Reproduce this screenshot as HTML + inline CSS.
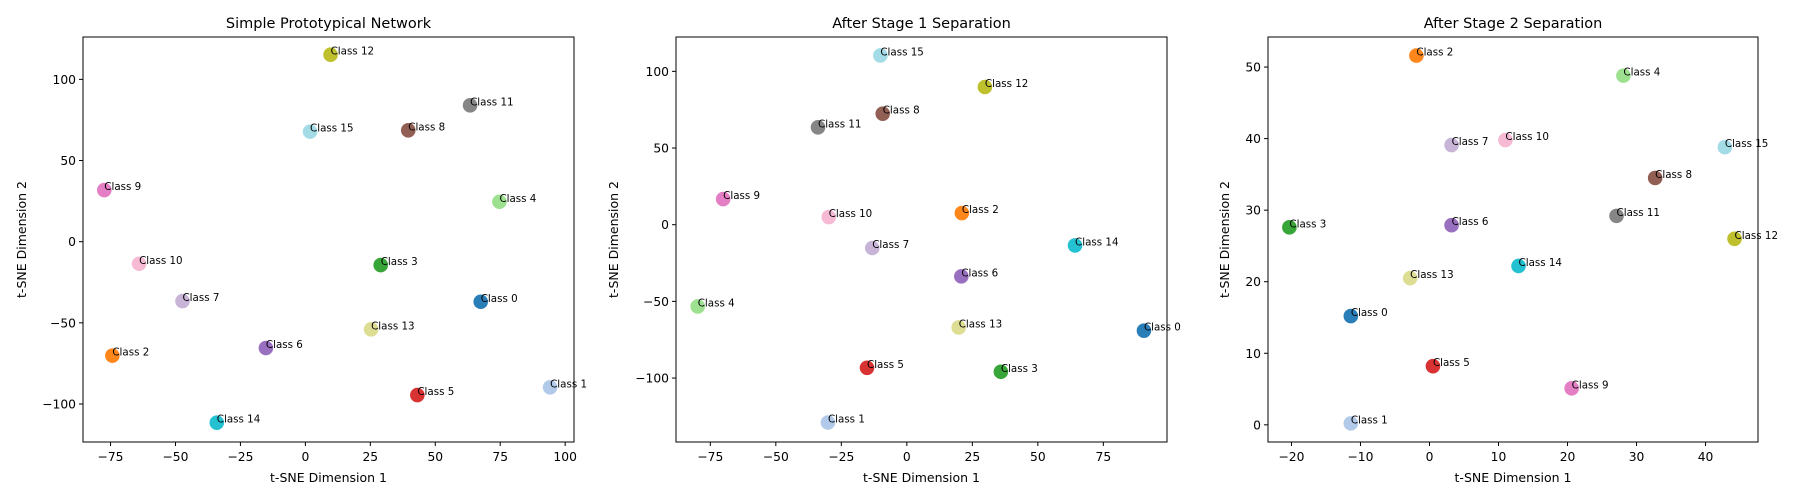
<!DOCTYPE html>
<html><head><meta charset="utf-8"><style>
body{margin:0;background:#fff;}
svg{display:block;font-family:"DejaVu Sans","Liberation Sans",sans-serif;}
</style></head><body>
<svg id="chart" width="1800" height="500" viewBox="0 0 1800 500" xmlns="http://www.w3.org/2000/svg"></svg>
<script>
const classNames = ["Class 0","Class 1","Class 2","Class 3","Class 4","Class 5","Class 6","Class 7","Class 8","Class 9","Class 10","Class 11","Class 12","Class 13","Class 14","Class 15"];
const classColors = ["#1f77b4","#aec7e8","#ff7f0e","#2ca02c","#98df8a","#d62728","#9467bd","#c5b0d5","#8c564b","#e377c2","#f7b6d2","#7f7f7f","#bcbd22","#dbdb8d","#17becf","#9edae5"];
const p1X = [67.5,94.2,-74.3,29,74.7,43.1,-15.2,-47.3,39.6,-77.4,-64,63.4,9.7,25.3,-34.1,1.8];
const p1Y = [-37,-89.7,-70.2,-14.4,24.6,-94.5,-65.5,-36.6,68.6,31.8,-13.6,84,115.2,-54,-111.5,67.8];
const p2X = [90.5,-30.1,21,35.9,-79.8,-15.2,20.8,-13.2,-9.2,-70.1,-29.8,-33.9,29.8,19.8,64.2,-10.1];
const p2Y = [-69.1,-129,7.6,-95.9,-53.3,-93.3,-33.7,-15.2,72.4,16.7,5,63.5,89.8,-67,-13.5,110.4];
const p3X = [-11.4,-11.4,-1.9,-20.3,28.1,0.5,3.2,3.2,32.7,20.6,11,27.1,44.2,-2.8,12.9,42.8];
const p3Y = [15.2,0.2,51.6,27.6,48.8,8.2,27.9,39.1,34.5,5.1,39.8,29.2,26,20.5,22.2,38.8];
const p1XTicks = [-75,-50,-25,0,25,50,75,100];
const p1YTicks = [-100,-50,0,50,100];
const p2XTicks = [-75,-50,-25,0,25,50,75];
const p2YTicks = [-100,-50,0,50,100];
const p3XTicks = [-20,-10,0,10,20,30,40];
const p3YTicks = [0,10,20,30,40,50];

const NS="http://www.w3.org/2000/svg";
const svg=document.getElementById('chart');
function mk(tag,attrs,parent){const e=document.createElementNS(NS,tag);for(const k in attrs)e.setAttribute(k,attrs[k]);(parent||svg).appendChild(e);return e;}
function fmt(v){return v<0?"\u2212"+Math.abs(v):String(v);}

const panels=[
 {title:"Simple Prototypical Network",xs:p1X,ys:p1Y,xt:p1XTicks,yt:p1YTicks,L:83,R:574,xmin:-85.6,xmax:103.4,ymin:-123.4,ymax:126.1,ylabOff:61},
 {title:"After Stage 1 Separation",xs:p2X,ys:p2Y,xt:p2XTicks,yt:p2YTicks,L:676,R:1167,xmin:-88.1,xmax:99.3,ymin:-141.7,ymax:122.4,ylabOff:62},
 {title:"After Stage 2 Separation",xs:p3X,ys:p3Y,xt:p3XTicks,yt:p3YTicks,L:1268,R:1758,xmin:-23.4,xmax:47.6,ymin:-2.4,ymax:54.2,ylabOff:43}
];
const T=37,B=442;
panels.forEach((p,pi)=>{
  const g=mk('g',{});
  
  
  const sx=v=>p.L+(v-p.xmin)/(p.xmax-p.xmin)*(p.R-p.L);
  const sy=v=>B-(v-p.ymin)/(p.ymax-p.ymin)*(B-T);
  const title=mk('text',{x:(p.L+p.R)/2,y:28,'text-anchor':'middle','font-size':14.5,fill:'#000'},g);
  title.textContent=p.title;
  
  
  p.xt.forEach(t=>{
    const x=sx(t);
    mk('line',{x1:x,x2:x,y1:B,y2:B+4,stroke:'#000','stroke-width':1},g);
    const tx=mk('text',{x:x,y:B+19,'text-anchor':'middle','font-size':12.3},g);
    tx.textContent=fmt(t);
    
    
  });
  p.yt.forEach(t=>{
    const y=sy(t);
    mk('line',{x1:p.L-4,x2:p.L,y1:y,y2:y,stroke:'#000','stroke-width':1},g);
    const ty=mk('text',{x:p.L-7,y:y+4.5,'text-anchor':'end','font-size':12.3},g);
    ty.textContent=fmt(t);
    
    
  });
  const xl=mk('text',{x:(p.L+p.R)/2,y:482,'text-anchor':'middle','font-size':12.5},g);
  xl.textContent="t-SNE Dimension 1";
  
  
  const yx=p.L-p.ylabOff, yy=(T+B)/2;
  const yl=mk('text',{x:yx,y:yy,'text-anchor':'middle','font-size':12.5,transform:`rotate(-90 ${yx} ${yy})`,dy:4},g);
  yl.textContent="t-SNE Dimension 2";
  
  
  p.xs.forEach((v,i)=>{
    const cx=sx(v), cy=sy(p.ys[i]);
    const c=mk('circle',{cx:cx,cy:cy,r:7.3,fill:classColors[i],'fill-opacity':0.95},g);
    
    
  });
  p.xs.forEach((v,i)=>{
    const cx=sx(v), cy=sy(p.ys[i]);
    const lb=mk('text',{x:cx,y:cy,'font-size':10.3,fill:'#000'},g);
    lb.textContent=classNames[i];
    
    
  });
  const fr=mk('rect',{x:p.L,y:T,width:p.R-p.L,height:B-T,fill:'none',stroke:'#000','stroke-width':1},g);
  
  
});
</script>
</body></html>
